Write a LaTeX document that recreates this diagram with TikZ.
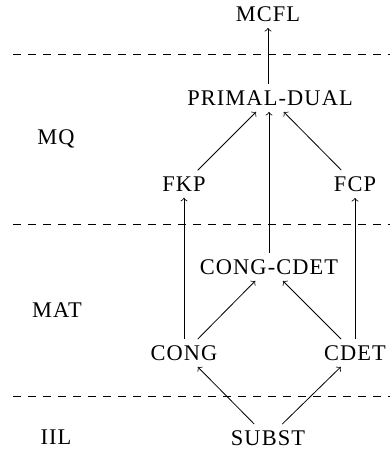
\documentclass[tikz,border=0pt]{standalone}
\usepackage{fontspec}
\setmainfont{Liberation Serif}
\newfontfamily\probfont[LetterSpace=5]{Liberation Serif}
\usetikzlibrary{arrows}

\begin{document}
\begin{tikzpicture}[x=0.5pt,y=-0.5pt,
    lvl/.style={font=\probfont\fontsize{11.2}{13}\selectfont,inner sep=3pt},
    sep/.style={dashed,dash pattern=on 4pt off 3.5pt}]
  \useasboundingbox (0,0) rectangle (390,454);

  % separators between the levels
  \foreach \y in {54,224,396}
    \draw[sep] (13,\y) -- (390,\y);

  % level names
  \node[lvl] (mq)  at (56,139) {MQ};
  \node[lvl] (mat) at (57,310) {MAT};
  \node[lvl] (iil) at (56,437) {IIL};

  % problems
  \node[lvl] (mcfl)  at (268,14)  {MCFL};
  \node[lvl] (pd)    at (270,98)  {PRIMAL-DUAL};
  \node[lvl] (fkp)   at (184,184) {FKP};
  \node[lvl] (fcp)   at (355,184) {FCP};
  \node[lvl] (cc)    at (269,267) {CONG-CDET};
  \node[lvl] (cong)  at (184,353) {CONG};
  \node[lvl] (cdet)  at (355,353) {CDET};
  \node[lvl] (subst) at (268,438) {SUBST};

  % reductions
  \draw[->] (pd.north -| mcfl) -- (mcfl);
  \draw[->] (fkp) -- (pd);
  \draw[->] (fcp) -- (pd);
  \draw[->] (cc.north) -- (pd.south -| cc);
  \draw[->] (cong) -- (fkp);
  \draw[->] (cdet) -- (fcp);
  \draw[->] (cong) -- (cc);
  \draw[->] (cdet) -- (cc);
  \draw[->] (subst) -- (cong);
  \draw[->] (subst) -- (cdet);
\end{tikzpicture}
\end{document}
